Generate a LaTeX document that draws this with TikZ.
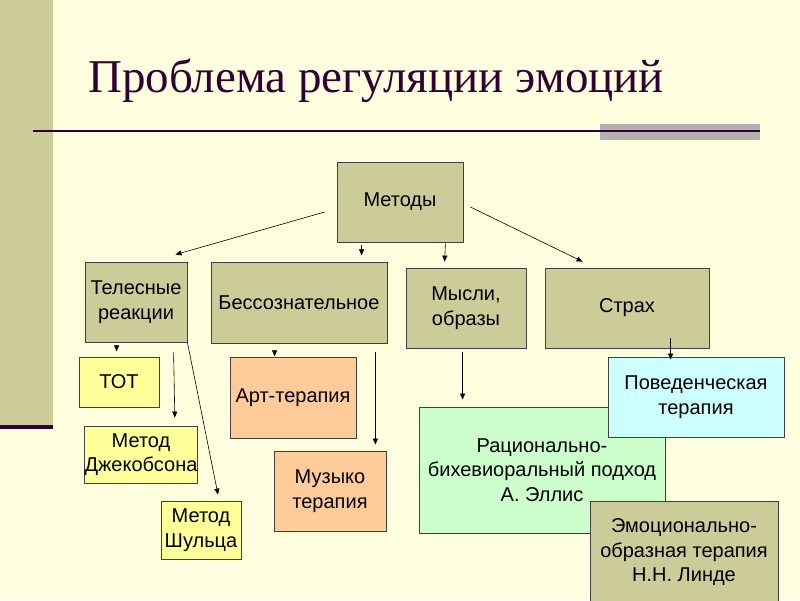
\documentclass[tikz,border=0pt]{standalone}
\usepackage{fontspec}
\setmainfont{Liberation Sans}
\newfontfamily\titlefont{Liberation Serif}
\usetikzlibrary{calc,arrows.meta}
\definecolor{bg}{HTML}{FFFFE0}
\definecolor{olive}{HTML}{CCCC99}
\definecolor{ttl}{HTML}{330033}
\definecolor{ylw}{HTML}{FFFF99}
\definecolor{peach}{HTML}{FFCC99}
\definecolor{mint}{HTML}{CCFFCC}
\definecolor{sky}{HTML}{CCFFFF}
\tikzset{
  bx/.style={draw=black!75, line width=0.8pt, align=center, inner sep=0pt,
    font=\fontsize{20}{24.5}\selectfont, text=black},
  arr/.style={-{Triangle[length=6pt,width=5pt]}, line width=0.6pt},
}
\begin{document}
\begin{tikzpicture}[x=1pt,y=-1pt]
\useasboundingbox (0,0) rectangle (800,600);
\fill[bg] (0,0) rectangle (800,600);
\fill[olive] (0,0) rectangle (53,425);
\fill[ttl] (0,425) rectangle (53,429);
\fill[gray!60] (600,124) rectangle (760,140);
\draw[ttl, line width=2pt] (33,131) -- (760,131);
\node[anchor=base west, text=ttl, font=\titlefont\fontsize{47}{52}\selectfont, inner sep=0pt] (title) at (88,92) {Проблема регуляции эмоций};

% boxes
\node[bx, fill=olive, minimum width=126, minimum height=80] (met) at (400,202) {Методы};
\node[bx, fill=olive, minimum width=102, minimum height=80] (tel) at (136,302) {Телесные\\реакции};
\node[bx, fill=olive, minimum width=176, minimum height=81] (bes) at (299,302.5) {Бессознательное};
\node[bx, fill=olive, minimum width=120, minimum height=80] (mys) at (466,308) {Мысли,\\образы};
\node[bx, fill=olive, minimum width=164, minimum height=80] (str) at (627,308) {Страх};
\node[bx, fill=ylw, minimum width=80, minimum height=50] (tot) at (119,382) {ТОТ};
\node[bx, fill=ylw, minimum width=112, minimum height=57] (jak) at (141,454.5) {Метод\\Джекобсона};
\node[bx, fill=ylw, minimum width=80, minimum height=58] (shu) at (201,530) {Метод\\Шульца};
\node[bx, fill=peach, minimum width=126, minimum height=81] (art) at (293,397.5) {Арт-терапия};
\node[bx, fill=peach, minimum width=112, minimum height=80] (muz) at (330,491) {Музыко\\терапия};
\node[bx, fill=mint, minimum width=246, minimum height=126] (rat) at (542,470) {Рационально-\\бихевиоральный подход\\А. Эллис};
\node[bx, fill=sky, minimum width=176, minimum height=80] (pov) at (696,397) {Поведенческая\\терапия};
\node[bx, fill=olive, minimum width=188, minimum height=102] (emo) at (684,552) {Эмоционально-\\образная терапия\\Н.Н. Линде};

% connectors
\draw[arr] ($(met.west)+(-12,10)$) -- ($(tel.north east)+(-12,-7)$);
\draw[arr] ($(met.south west)+(25,3)$) -- ($(met.south west)+(25,13)$);
\draw[arr] ($(met.south east)+(-18,1)$) -- ($(mys.north west)+(39,-6)$);
\draw[arr] ($(met.east)+(7,5)$) -- ($(str.north west)+(38,-6)$);
\draw[arr] ($(tel.south west)+(32,3)$) -- ($(tel.south west)+(32,9)$);
\draw[arr] ($(tel.south west)+(89,10)$) -- ($(jak.north east)+(-23,-8)$);
\draw[arr] (tel.south east) -- ($(shu.north)+(17,-6)$);
\draw[arr] ($(bes.south west)+(64,7)$) -- ($(bes.south west)+(64,13)$);
\draw[arr] ($(bes.south east)+(-12,9)$) -- ($(muz.north east)+(-11,-6)$);
\draw[arr] ($(mys.south west)+(57,4)$) -- ($(rat.north west)+(44,-7)$);
\draw[arr] ($(str.south west)+(126,-10)$) -- ($(pov.north west)+(63,3)$);
\end{tikzpicture}
\end{document}
